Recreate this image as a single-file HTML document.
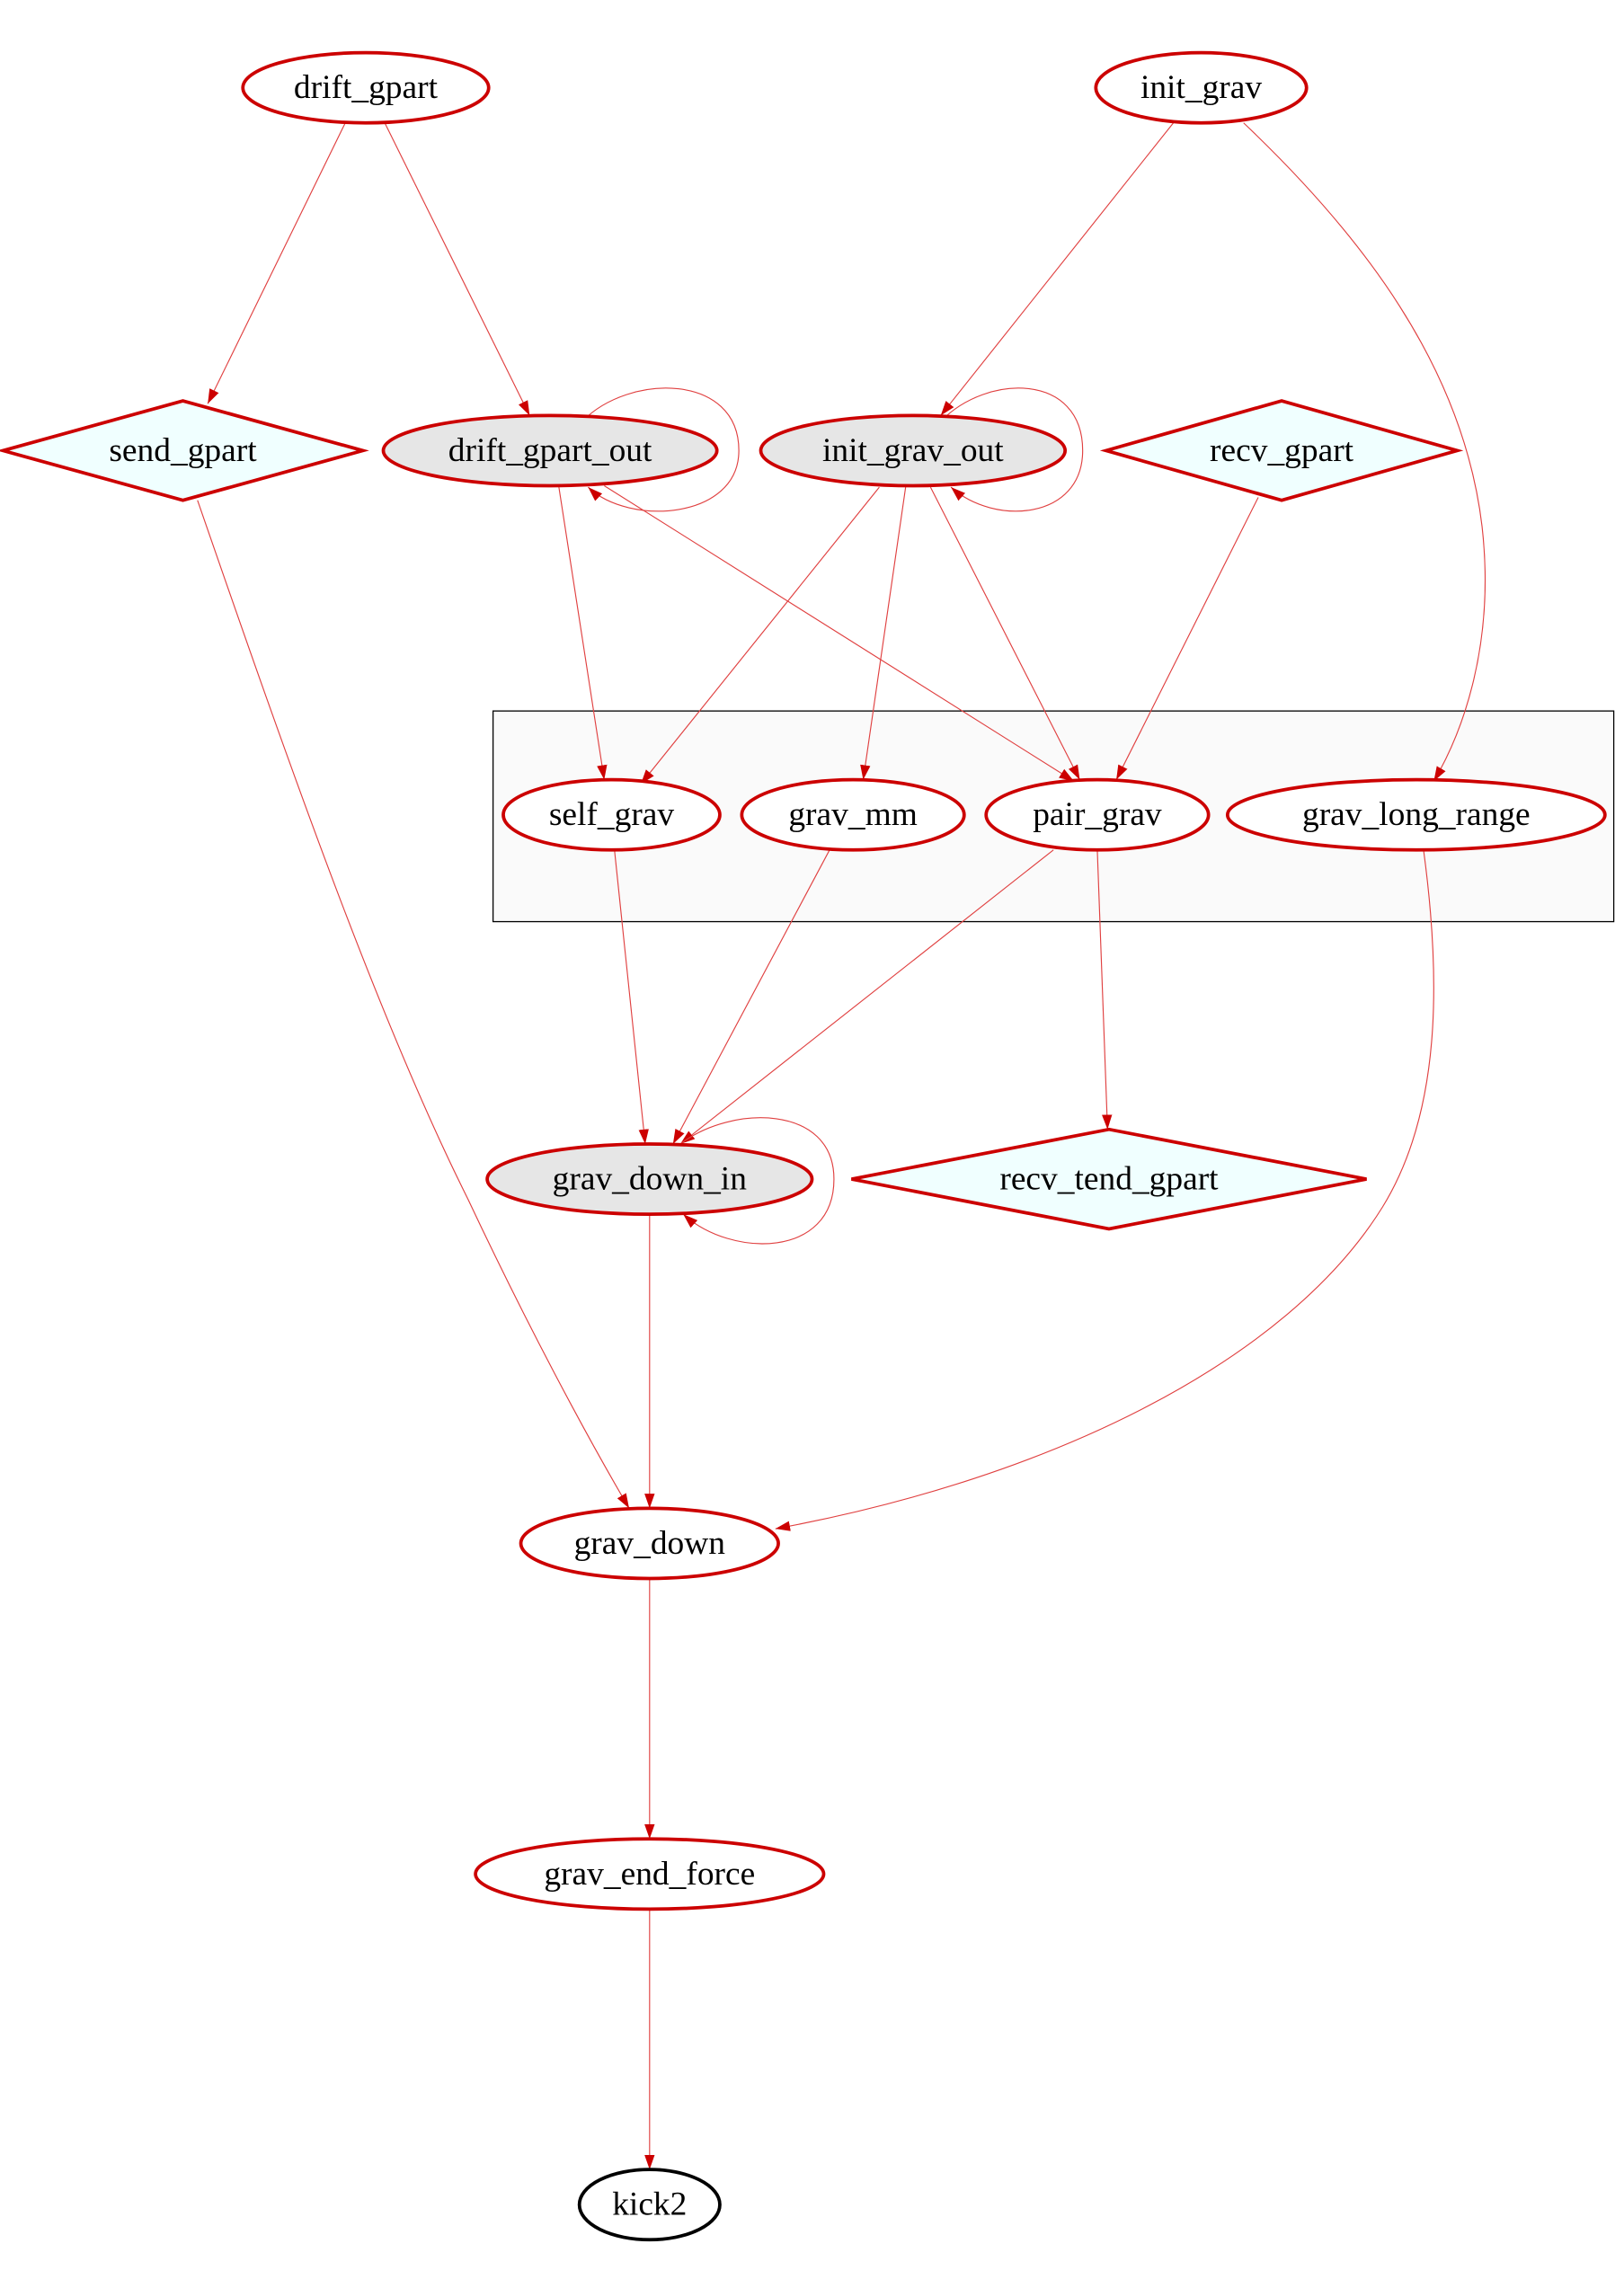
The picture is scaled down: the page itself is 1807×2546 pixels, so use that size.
<!DOCTYPE html>
<html><head><meta charset="utf-8"><style>
html,body{margin:0;padding:0;background:#fff;}
svg{display:block;}
text{font-family:"Liberation Serif",serif;font-size:23px;text-anchor:middle;dominant-baseline:central;fill:#000;}
.n{stroke:#cc0000;stroke-width:2.3;}
.e{stroke:#e04040;stroke-width:0.7;fill:none;marker-end:url(#a);}
</style></head><body>
<svg width="1807" height="2546" viewBox="0 0 1110 1564" preserveAspectRatio="none" xmlns="http://www.w3.org/2000/svg">
<defs><marker id="a" viewBox="0 0 10 10" refX="10" refY="5" markerWidth="10" markerHeight="10" markerUnits="userSpaceOnUse" orient="auto"><path d="M0,1.5 L10,5 L0,8.5 z" fill="#cc0000"/></marker></defs>
<rect x="337" y="486" width="766" height="144" fill="#fafafa" stroke="#000" stroke-width="0.8"/>
<path class="e" d="M236,84 L142,276"/>
<path class="e" d="M263,84 L362,284"/>
<path class="e" d="M398,288 C430,255 505,255 505,308 C505,355 430,360 402,333"/>
<path class="e" d="M382,333 L413,533"/>
<path class="e" d="M413,332 L734,534"/>
<path class="e" d="M802,84 L643,284"/>
<path class="e" d="M850,84 C930,160 1000,250 1013,360 C1022,440 1000,500 980,534"/>
<path class="e" d="M643,288 C675,255 740,255 740,308 C740,355 680,360 650,333"/>
<path class="e" d="M601,333 L438,536"/>
<path class="e" d="M619,333 L590,533"/>
<path class="e" d="M636,333 L738,533"/>
<path class="e" d="M860,340 L763,533"/>
<path class="e" d="M135,342 C200,530 260,700 320,820 C360,905 400,980 430,1031"/>
<path class="e" d="M420,581 L441,782"/>
<path class="e" d="M567,581 L460,782"/>
<path class="e" d="M720,581 L465,782"/>
<path class="e" d="M750,581 L757,772"/>
<path class="e" d="M465,782 C500,755 570,755 570,806 C570,860 500,860 467,830"/>
<path class="e" d="M444,830 L444,1031"/>
<path class="e" d="M973,581 C985,670 985,760 945,825 C880,930 720,1010 530,1045"/>
<path class="e" d="M444,1079 L444,1257"/>
<path class="e" d="M444,1305 L444,1483"/>
<ellipse class="n" cx="250" cy="60" rx="84" ry="24" fill="#fff"/><text x="250" y="60">drift_gpart</text>
<ellipse class="n" cx="821" cy="60" rx="72" ry="24" fill="#fff"/><text x="821" y="60">init_grav</text>
<polygon class="n" points="2,308 125,274 248,308 125,342" fill="#f0ffff"/><text x="125" y="308">send_gpart</text>
<ellipse class="n" cx="376" cy="308" rx="114" ry="24" fill="#e6e6e6"/><text x="376" y="308">drift_gpart_out</text>
<ellipse class="n" cx="624" cy="308" rx="104" ry="24" fill="#e6e6e6"/><text x="624" y="308">init_grav_out</text>
<polygon class="n" points="756,308 876,274 996,308 876,342" fill="#f0ffff"/><text x="876" y="308">recv_gpart</text>
<ellipse class="n" cx="418" cy="557" rx="74" ry="24" fill="#fff"/><text x="418" y="557">self_grav</text>
<ellipse class="n" cx="583" cy="557" rx="76" ry="24" fill="#fff"/><text x="583" y="557">grav_mm</text>
<ellipse class="n" cx="750" cy="557" rx="76" ry="24" fill="#fff"/><text x="750" y="557">pair_grav</text>
<ellipse class="n" cx="968" cy="557" rx="129" ry="24" fill="#fff"/><text x="968" y="557">grav_long_range</text>
<ellipse class="n" cx="444" cy="806" rx="111" ry="24" fill="#e6e6e6"/><text x="444" y="806">grav_down_in</text>
<polygon class="n" points="582,806 758,772 934,806 758,840" fill="#f0ffff"/><text x="758" y="806">recv_tend_gpart</text>
<ellipse class="n" cx="444" cy="1055" rx="88" ry="24" fill="#fff"/><text x="444" y="1055">grav_down</text>
<ellipse class="n" cx="444" cy="1281" rx="119" ry="24" fill="#fff"/><text x="444" y="1281">grav_end_force</text>
<ellipse cx="444" cy="1507" rx="48" ry="24" fill="#fff" stroke="#000" stroke-width="2.3"/><text x="444" y="1507">kick2</text>
</svg>
</body></html>
